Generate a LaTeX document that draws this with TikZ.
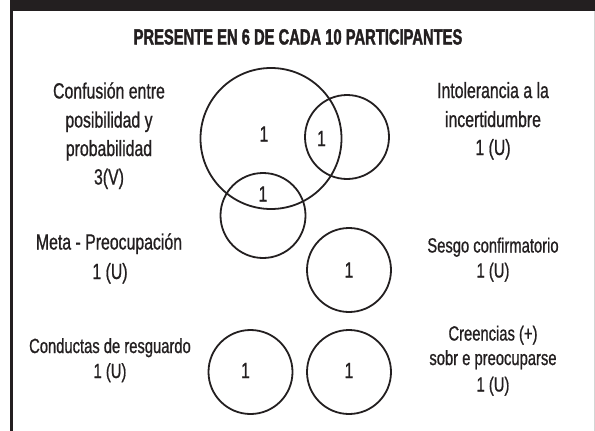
\documentclass[tikz,border=0pt]{standalone}
\usepackage{fontspec}
\setmainfont{Liberation Sans}[FakeStretch=0.72, FakeBold=0.8]
\newfontfamily\titlefont{Liberation Sans Bold}[FakeStretch=0.67, FakeBold=1.6]
\definecolor{ink}{HTML}{231F20}
\definecolor{edge}{HTML}{D4D4D4}
\begin{document}
\begin{tikzpicture}[x=1pt,y=-1pt,
  lbl/.style={anchor=base, inner sep=0pt, text=ink, font=\fontsize{22}{26}\selectfont},
  slbl/.style={lbl, font=\fontsize{20.5}{24}\selectfont},
  ttl/.style={anchor=base, inner sep=0pt, text=ink, font=\titlefont\fontsize{22}{26}\selectfont},
  venn/.style={circle, draw=ink, line width=1.8pt, inner sep=0pt, outer sep=0pt}]
\useasboundingbox (0,0) rectangle (595,431);
\fill[white] (0,0) rectangle (595,431);
% frame
\fill[ink] (9.5,0) rectangle (595,11);
\fill[ink] (9.5,0) rectangle (12.5,431);
\draw[edge, line width=1pt] (594,11) -- (594,431);
% title
\node[ttl] (title) at (298,44.5) {PRESENTE EN 6 DE CADA 10 PARTICIPANTES};
% circles
\node[venn, minimum size=141pt] (cA) at (271,138.5) {};
\node[venn, minimum size=84pt] (cB) at (347,137) {};
\node[venn, minimum size=85pt] (cC) at (263,215.5) {};
\node[venn, minimum size=84pt] (cD) at (349,270) {};
\node[venn, minimum size=84pt] (cE) at (250.5,372) {};
\node[venn, minimum size=84pt] (cF) at (349,372) {};
% numbers
\node[lbl] (nA) at (264,141.5) {1};
\node[lbl] (nAB) at (321.5,146) {1};
\node[lbl] (nAC) at (263,201.5) {1};
\node[lbl] (nD) at (349,277.5) {1};
\node[lbl] (nE) at (245.5,378) {1};
\node[lbl] (nF) at (349,378) {1};
% left labels
\node[lbl] (l1a) at (109,98.5) {Confusión entre};
\node[lbl] (l1b) at (109,127.5) {posibilidad y};
\node[lbl] (l1c) at (109,156) {probabilidad};
\node[lbl] (l1d) at (109,184.5) {3(V)};
\node[lbl] (l2a) at (109,249.5) {Meta - Preocupación};
\node[lbl] (l2b) at (110,279) {1 (U)};
\node[slbl] (l3a) at (110,353) {Conductas de resguardo};
\node[slbl] (l3b) at (110,378) {1 (U)};
% right labels
\node[lbl] (r1a) at (493,98) {Intolerancia a la};
\node[lbl] (r1b) at (493,127) {incertidumbre};
\node[lbl] (r1c) at (493,155) {1 (U)};
\node[slbl] (r2a) at (493,252.5) {Sesgo confirmatorio};
\node[slbl] (r2b) at (493,277.5) {1 (U)};
\node[slbl] (r3a) at (493,340.5) {Creencias (+)};
\node[slbl] (r3b) at (493,365) {sobr e preocuparse};
\node[slbl] (r3c) at (493,391.5) {1 (U)};
\end{tikzpicture}
\end{document}
